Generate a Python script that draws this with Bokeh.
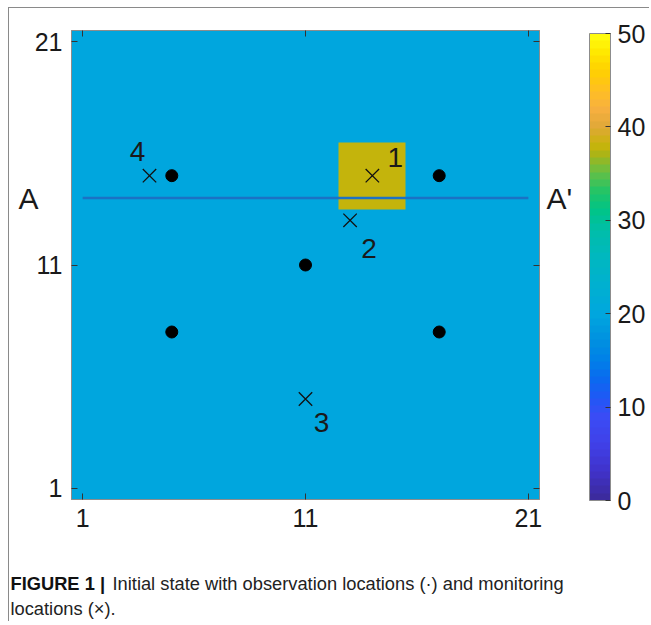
import numpy as np
from bokeh.plotting import figure
from bokeh.layouts import column
from bokeh.models import LinearColorMapper, ColorBar, FixedTicker, LinearAxis, Range1d
from bokeh.core.properties import value
from bokeh.embed import file_html
from bokeh.resources import INLINE

# ---------------- data ----------------
grid_n = 21
background_value = 20.0
anomaly_value = 38.0
anomaly_cols = [13, 14, 15]
anomaly_rows = [14, 15, 16]

obs_x = [5, 17, 11, 5, 17]
obs_y = [15, 15, 11, 8, 8]

mon_x = [14, 13, 11, 4]
mon_y = [15, 13, 5, 15]
mon_labels = ["1", "2", "3", "4"]

section_x = [1, 21]
section_y = [14, 14]
section_labels = ["A", "A'"]

axis_ticks = [1, 11, 21]
cbar_ticks = [0, 10, 20, 30, 40, 50]
cbar_low, cbar_high = 0, 50

caption_bold = "FIGURE 1 |"
caption_rest = "Initial state with observation locations (\u00b7) and monitoring"
caption_line2 = "locations (\u00d7)."

# colour map anchors (value, colour)
cmap_vals = [0, 3, 6, 9, 11, 13, 15, 17, 20, 23, 26, 29, 31, 33, 35, 37, 38, 40, 42, 44, 46, 48, 50]
cmap_cols = ["#3b2a98", "#4032c8", "#4040e8", "#3a4cf5", "#2058f5", "#0a6af0", "#0080e8",
             "#0090e0", "#00a7de", "#00b0d0", "#00b8c0", "#00bea8", "#00c488", "#20c468",
             "#60c048", "#a8b418", "#c8b40a", "#e0a838", "#f8b040", "#ffc020", "#ffd000",
             "#ffe800", "#ffff10"]

# ---------------- build palette ----------------
def hex2rgb(h):
    return np.array([int(h[i:i + 2], 16) for i in (1, 3, 5)], dtype=float)

anchor_rgb = np.array([hex2rgb(c) for c in cmap_cols])
n_pal = 64
centers = (np.arange(n_pal) + 0.5) / n_pal * (cbar_high - cbar_low) + cbar_low
palette = []
for v in centers:
    rgb = [np.interp(v, cmap_vals, anchor_rgb[:, k]) for k in range(3)]
    palette.append("#%02x%02x%02x" % tuple(int(round(c)) for c in rgb))

mapper = LinearColorMapper(palette=palette, low=cbar_low, high=cbar_high)

field = np.full((grid_n, grid_n), background_value)
for r in anomaly_rows:
    for c in anomaly_cols:
        field[r - 1, c - 1] = anomaly_value

FONT = "Liberation Sans"
TXT = "#1a1a1a"

p = figure(width=640, height=541, x_range=(0.5, 21.5), y_range=(0.5, 21.5),
           output_backend="svg", toolbar_location=None,
           min_border_left=62, min_border_right=110, min_border_top=22, min_border_bottom=50)
p.frame_align = False
p.grid.visible = False
p.outline_line_color = "#8c8c8c"
p.background_fill_color = "white"

p.image(image=[field], x=0.5, y=0.5, dw=grid_n, dh=grid_n, color_mapper=mapper)

p.line(section_x, section_y, line_color="#1b72c4", line_width=2.5)
p.scatter(obs_x, obs_y, size=12, color="black")
p.scatter(mon_x, mon_y, marker="x", size=19, line_color="#111111", line_width=1.3)

lab_dx = [23, 19, 16, -12]
lab_dy = [-18, 28, 23, -24]
p.text(x=mon_x, y=mon_y, text=mon_labels, x_offset=lab_dx, y_offset=lab_dy,
       text_align="center", text_baseline="middle", text_font=value(FONT),
       text_font_size="28px", text_color=TXT)

# axes
def style_axis(ax, show_labels=True):
    ax.ticker = FixedTicker(ticks=axis_ticks)
    ax.major_tick_in = 6
    ax.major_tick_out = 0
    ax.minor_tick_line_color = None
    ax.major_tick_line_color = "#333333"
    ax.axis_line_color = "#8c8c8c"
    ax.major_label_text_font = FONT
    ax.major_label_text_color = TXT
    if show_labels:
        ax.major_label_text_font_size = "25px"
    else:
        ax.major_label_text_font_size = "1px"
        ax.major_label_text_alpha = 0

style_axis(p.xaxis[0])
style_axis(p.yaxis[0])
p.xaxis[0].major_label_standoff = 9
p.yaxis[0].major_label_standoff = 9
top_ax = LinearAxis()
right_ax = LinearAxis()
style_axis(top_ax, False)
style_axis(right_ax, False)
p.add_layout(top_ax, "above")
p.add_layout(right_ax, "right")

# section end labels A / A' drawn as tick labels of extra, line-less axes
def section_axis(label, standoff):
    ax = LinearAxis(ticker=FixedTicker(ticks=[section_y[0]]),
                    major_label_overrides={section_y[0]: label})
    ax.axis_line_color = None
    ax.major_tick_line_color = None
    ax.minor_tick_line_color = None
    ax.major_tick_in = 0
    ax.major_tick_out = 0
    ax.major_label_standoff = standoff
    ax.major_label_text_font = FONT
    ax.major_label_text_font_size = "30px"
    ax.major_label_text_color = TXT
    return ax

p.add_layout(section_axis(section_labels[0], -7), "left")
p.add_layout(section_axis(section_labels[1], 7), "right")

# colour bar
cb = ColorBar(color_mapper=mapper, location=(518, -1), width=21, height=467,
              padding=0, margin=0, ticker=FixedTicker(ticks=cbar_ticks),
              major_label_text_font=FONT, major_label_text_font_size="25px",
              major_label_text_color=TXT, label_standoff=7,
              major_tick_in=5, major_tick_out=0, major_tick_line_color="#333333",
              minor_tick_line_color=None,
              bar_line_color="#8c8c8c", border_line_color=None, background_fill_alpha=0)
p.add_layout(cb)

# caption panel
cap = figure(width=640, height=72, x_range=Range1d(0, 640), y_range=Range1d(72, 0),
             output_backend="svg", toolbar_location=None,
             x_axis_location=None, y_axis_location=None, min_border=0)
cap.frame_align = False
cap.grid.visible = False
cap.outline_line_color = None
cap.text(x=[1], y=[34], text=[caption_bold], text_font=value(FONT),
         text_font_style="bold", text_font_size="18.3px", text_color="#111111",
         text_baseline="alphabetic")
cap.text(x=[103, 1], y=[34, 59], text=[caption_rest, caption_line2], text_font=value(FONT),
         text_font_size="18.3px", text_color="#222222", text_baseline="alphabetic")

layout = column(p, cap, spacing=0)
layout.styles = {"margin-left": "8px", "margin-top": "7px",
                 "border-left": "1px solid #8a8a8a", "border-top": "1px solid #8a8a8a"}

open("out.html", "w").write(file_html(layout, INLINE))
